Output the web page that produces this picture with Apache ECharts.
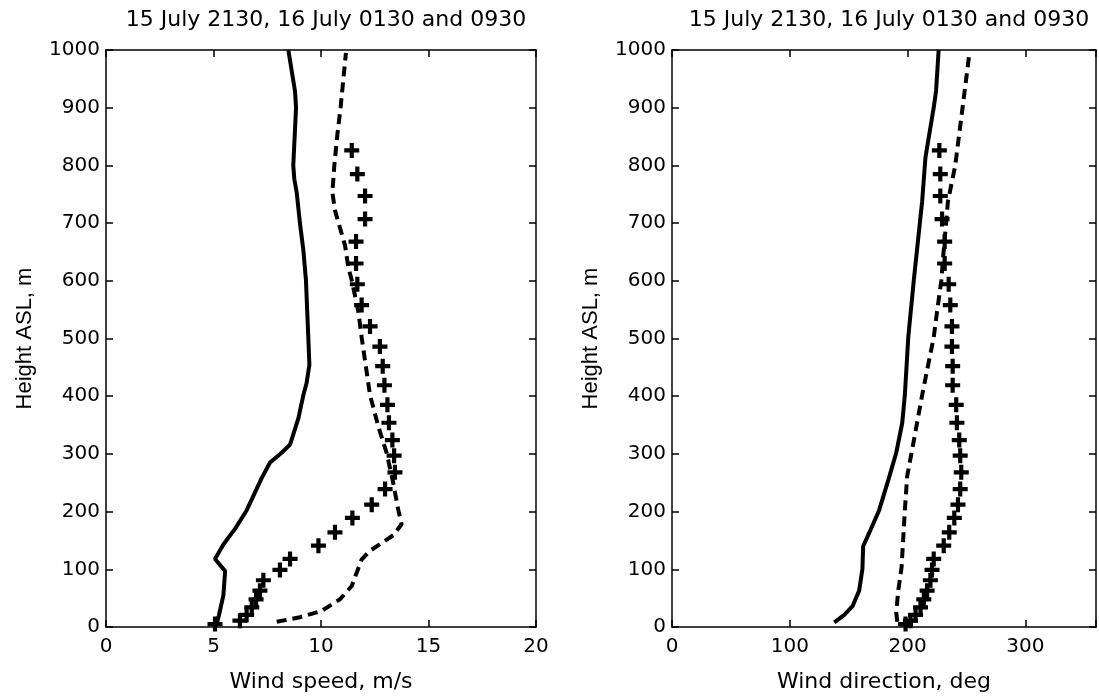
<!DOCTYPE html>
<html>
<head>
<meta charset="utf-8">
<script src="https://cdn.jsdelivr.net/npm/echarts@6/dist/echarts.min.js"></script>
<style>
html,body{margin:0;padding:0;background:#fff;}
#chart{width:1099px;height:698px;}
</style>
</head>
<body>
<div id="chart"></div>
<script>
// ---------- Data ----------
var titleText = '15 July 2130, 16 July 0130 and 0930';
var speedTicks = [0, 5, 10, 15, 20];
var dirTicks = [0, 100, 200, 300];
var heightTicks = [0, 100, 200, 300, 400, 500, 600, 700, 800, 900, 1000];

// Wind speed, 15 July 2130 (solid)
var spdSolidH = [5, 20, 55, 97, 118, 143, 170, 202, 258, 285, 302, 316, 362, 402, 423, 454, 502, 546, 601, 653, 700, 753, 776, 800, 900, 929, 1000];
var spdSolidV = [5.15, 5.25, 5.46, 5.54, 5.07, 5.46, 6.0, 6.54, 7.24, 7.63, 8.17, 8.56, 8.95, 9.18, 9.33, 9.46, 9.41, 9.36, 9.30, 9.18, 9.02, 8.87, 8.76, 8.71, 8.84, 8.79, 8.48];
// Wind speed, 16 July 0130 (dashed)
var spdDashH = [9, 17, 28, 48, 71, 94, 117, 132, 159, 178, 202, 255, 302, 347, 402, 469, 502, 546, 601, 623, 661, 722, 753, 800, 853, 900, 995];
var spdDashV = [7.94, 9.02, 10.03, 10.88, 11.43, 11.66, 11.89, 12.28, 13.36, 13.75, 13.6, 13.33, 13.05, 12.67, 12.28, 12.02, 11.89, 11.74, 11.43, 11.27, 11.12, 10.65, 10.53, 10.62, 10.76, 10.91, 11.16];
// 16 July 0930 (plus markers)
var plusH = [826, 785, 747, 707, 668, 630, 594, 558, 521, 486, 452, 419, 385, 354, 324, 297, 268, 239, 212, 189, 164, 141, 118, 99, 81, 63, 48, 34, 21, 11, 5];
var spdPlusV = [11.43, 11.69, 12.05, 12.05, 11.63, 11.63, 11.69, 11.89, 12.28, 12.74, 12.87, 12.95, 13.09, 13.16, 13.32, 13.40, 13.44, 12.98, 12.36, 11.46, 10.65, 9.88, 8.56, 8.09, 7.32, 7.16, 6.98, 6.78, 6.54, 6.23, 5.07];

// Wind direction, 15 July 2130 (solid)
var dirSolidH = [8, 21, 36, 63, 101, 140, 163, 202, 255, 302, 354, 402, 502, 601, 738, 814, 900, 929, 1000];
var dirSolidV = [137.8, 146.3, 153.3, 158.9, 161.7, 162.3, 167.4, 175.8, 183.7, 190.4, 195.5, 197.7, 200.6, 205.3, 212.4, 215.2, 222.2, 224.2, 226.4];
// Wind direction, 16 July 0130 (dashed)
var dirDashH = [9, 25, 63, 103, 202, 262, 302, 402, 502, 546, 601, 653, 738, 800, 900, 991];
var dirDashV = [191.3, 190.4, 192.1, 194.9, 197.7, 199.7, 203.4, 212.4, 222.2, 225.0, 228.7, 230.7, 234.3, 240.5, 246.7, 252.3];
// Wind direction, 16 July 0930 (plus)
var dirPlusV = [227.0, 227.8, 227.8, 229.3, 231.5, 231.5, 234.9, 236.3, 237.7, 237.7, 238.3, 238.3, 241.3, 241.9, 243.9, 244.7, 245.6, 244.7, 242.8, 239.7, 235.4, 230.7, 222.2, 220.8, 219.4, 216.6, 213.8, 211.0, 206.8, 202.5, 198.3];

// ---------- Build ----------
function pairs(v, h) { return v.map(function (x, i) { return [x, h[i]]; }); }

var FONT = 'DejaVu Sans';
var FONT_V = 'Liberation Sans';
var FS_TICK = 20;
var FS_LABEL = 22;
var grids = [
  { left: 106, top: 50, width: 430, height: 590 },
  { left: 672, top: 50, width: 425, height: 590 }
];

function xAxes(gi, min, max, interval, name, ticks) {
  var base = {
    gridIndex: gi, type: 'value', min: min, max: max, interval: interval,
    axisLine: { show: true, onZero: false, lineStyle: { color: '#000', width: 1.5 } },
    axisTick: { show: true, inside: true, length: 7, lineStyle: { color: '#000', width: 1.5 } },
    splitLine: { show: false }
  };
  var bottom = Object.assign({}, base, {
    position: 'bottom', name: name, nameLocation: 'middle', nameGap: 44,
    nameTextStyle: { fontFamily: FONT, fontSize: FS_LABEL, color: '#000' },
    axisLabel: { show: true, margin: 10, fontFamily: FONT, fontSize: FS_TICK, color: '#000',
      showMaxLabel: true, showMinLabel: true,
      formatter: function (v) { return ticks.indexOf(v) >= 0 ? String(v) : ''; } }
  });
  var top = Object.assign({}, base, { position: 'top', axisLabel: { show: false } });
  return [bottom, top];
}
function yAxes(gi) {
  var base = {
    gridIndex: gi, type: 'value', min: 0, max: 1000, interval: 100,
    axisLine: { show: true, onZero: false, lineStyle: { color: '#000', width: 1.5 } },
    axisTick: { show: true, inside: true, length: 7, lineStyle: { color: '#000', width: 1.5 } },
    splitLine: { show: false }
  };
  var left = Object.assign({}, base, {
    position: 'left', name: 'Height ASL, m', nameLocation: 'middle', nameGap: 70,
    nameTextStyle: { fontFamily: FONT_V, fontSize: FS_LABEL, color: '#000' },
    axisLabel: { show: true, margin: 6, fontFamily: FONT, fontSize: FS_TICK, color: '#000',
      formatter: function (v) { return heightTicks.indexOf(v) >= 0 ? String(v) : ''; } }
  });
  var right = Object.assign({}, base, { position: 'right', axisLabel: { show: false } });
  return [left, right];
}

var xa = xAxes(0, 0, 20, 5, 'Wind speed, m/s', speedTicks)
  .concat(xAxes(1, 0, 360, 100, 'Wind direction, deg', dirTicks));
var ya = yAxes(0).concat(yAxes(1));

var plusPath = 'path://M3.6,0H6.4V3.6H10V6.4H6.4V10H3.6V6.4H0V3.6H3.6Z';

function solid(xi, yi, d) {
  return { type: 'line', xAxisIndex: xi, yAxisIndex: yi, data: d, showSymbol: false, symbol: 'none',
    lineStyle: { color: '#000', width: 4, type: 'solid' }, z: 3, animation: false };
}
function dashed(xi, yi, d) {
  return { type: 'line', xAxisIndex: xi, yAxisIndex: yi, data: d, showSymbol: false, symbol: 'none',
    lineStyle: { color: '#000', width: 4, type: [10, 6] }, z: 3, animation: false };
}
function plus(xi, yi, d) {
  return { type: 'scatter', xAxisIndex: xi, yAxisIndex: yi, data: d, symbol: plusPath, symbolSize: 15,
    itemStyle: { color: '#000', opacity: 1 }, z: 4, animation: false };
}

var titleStyle = { fontFamily: FONT, fontSize: FS_LABEL, fontWeight: 'normal', color: '#000' };
var option = {
  backgroundColor: '#fff',
  animation: false,
  title: [
    { text: titleText, left: 321, top: 4, textAlign: 'center', textStyle: titleStyle },
    { text: titleText, left: 884, top: 4, textAlign: 'center', textStyle: titleStyle }
  ],
  grid: grids,
  xAxis: xa,
  yAxis: ya,
  series: [
    solid(0, 0, pairs(spdSolidV, spdSolidH)),
    dashed(0, 0, pairs(spdDashV, spdDashH)),
    plus(0, 0, pairs(spdPlusV, plusH)),
    solid(2, 2, pairs(dirSolidV, dirSolidH)),
    dashed(2, 2, pairs(dirDashV, dirDashH)),
    plus(2, 2, pairs(dirPlusV, plusH))
  ]
};

var chart = echarts.init(document.getElementById('chart'), null, { renderer: 'canvas' });
chart.setOption(option);
</script>
</body>
</html>
